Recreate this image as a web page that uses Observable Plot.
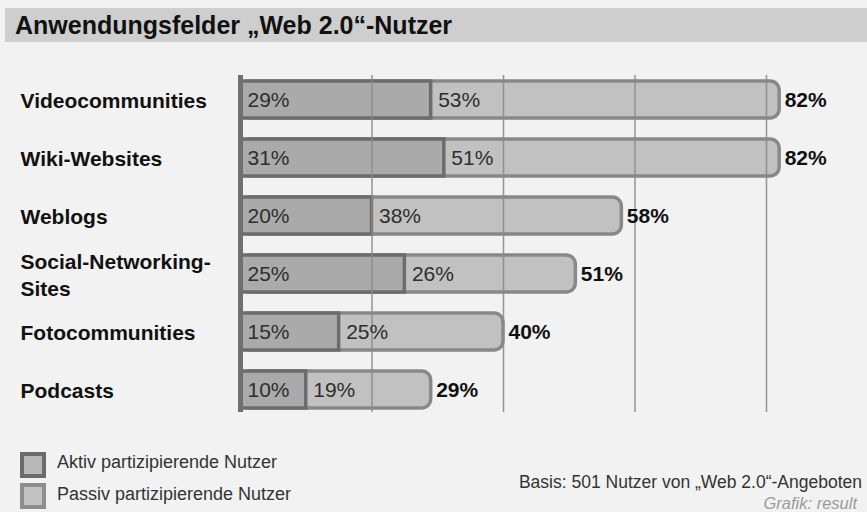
<!DOCTYPE html>
<html>
<head>
<meta charset="utf-8">
<script src="https://cdn.jsdelivr.net/npm/d3@7"></script>
<script src="https://cdn.jsdelivr.net/npm/@observablehq/plot@0.6"></script>
<style>
  html, body { margin: 0; padding: 0; background: #f2f2f2; }
  body { width: 867px; height: 512px; position: relative; overflow: hidden; font-family: "Liberation Sans", Arial, sans-serif; }
  #title { position: absolute; left: 5px; top: 8px; width: 862px; height: 34px; background: #cecece;
           font-weight: bold; font-size: 25px; line-height: 34px; padding-left: 10px; box-sizing: border-box; color: #111; }
  #chart { position: absolute; left: 0; top: 42px; }
  .leg { position: absolute; left: 20px; width: 18px; height: 18px; }
  .legtxt { position: absolute; left: 57px; font-size: 18px; color: #333; }
  #basis { position: absolute; right: 5px; top: 472px; font-size: 17.5px; color: #333; }
  #grafik { position: absolute; right: 10px; top: 494px; font-size: 16.5px; color: #9a9a9a; font-style: italic; }
</style>
</head>
<body>
<div id="title">Anwendungsfelder „Web 2.0“-Nutzer</div>
<div id="chart"></div>
<div class="leg" style="top:452px; background:#b9b9b9; border:4px solid #6b6b6b;"></div>
<div class="legtxt" style="top:452px;">Aktiv partizipierende Nutzer</div>
<div class="leg" style="top:483px; background:#c2c2c2; border:4px solid #8d8d8d;"></div>
<div class="legtxt" style="top:484px;">Passiv partizipierende Nutzer</div>
<div id="basis">Basis: 501 Nutzer von „Web 2.0“-Angeboten</div>
<div id="grafik">Grafik: result</div>
<script>
const categories = ["Videocommunities", "Wiki-Websites", "Weblogs", "Social-Networking-\nSites", "Fotocommunities", "Podcasts"];
const aktiv = [29, 31, 20, 25, 15, 10];
const passiv = [53, 51, 38, 26, 25, 19];
const gesamt = [82, 82, 58, 51, 40, 29];
const gridTicks = [20, 40, 60, 80];

const rows = categories.map((c, i) => ({cat: c, aktiv: aktiv[i], passiv: passiv[i], gesamt: gesamt[i]}));

const chart = Plot.plot({
  width: 867,
  height: 390,
  marginLeft: 20,
  marginRight: 0,
  marginTop: 33,
  marginBottom: 20,
  style: {background: "transparent", fontFamily: "Liberation Sans, Arial, sans-serif", overflow: "visible"},
  x: {domain: [0, 80], range: [240, 766], axis: null},
  y: {domain: categories, range: [29, 377], paddingInner: 0.36, paddingOuter: 0.18, axis: null},
  marks: [
    Plot.barX(rows, {y: "cat", x1: 0, x2: "gesamt", fill: "#c1c1c1", stroke: "#888888", strokeWidth: 3.5, rx: 9}),
    Plot.barX(rows, {y: "cat", x1: 0, x2: "aktiv", fill: "#aaaaaa", stroke: "#6c6c6c", strokeWidth: 3.5}),
    Plot.ruleX(gridTicks, {stroke: "#8a8a8a", strokeWidth: 1.5, strokeOpacity: 0.9}),
    Plot.ruleX([0], {stroke: "#707070", strokeWidth: 5}),
    Plot.text(rows, {y: "cat", x: 0, text: d => d.aktiv + "%", textAnchor: "start", dx: 7, fontSize: 21, fill: "#2e2e2e"}),
    Plot.text(rows, {y: "cat", x: "aktiv", text: d => d.passiv + "%", textAnchor: "start", dx: 7, fontSize: 21, fill: "#2e2e2e"}),
    Plot.text(rows, {y: "cat", x: "gesamt", text: d => d.gesamt + "%", textAnchor: "start", dx: 5, fontSize: 21, fontWeight: "bold", fill: "#111"}),
    Plot.text(rows, {y: "cat", text: "cat", frameAnchor: "left", textAnchor: "start", fontSize: 21, fontWeight: "bold", fill: "#111", lineHeight: 1.25})
  ]
});
document.getElementById("chart").appendChild(chart);
</script>
</body>
</html>
